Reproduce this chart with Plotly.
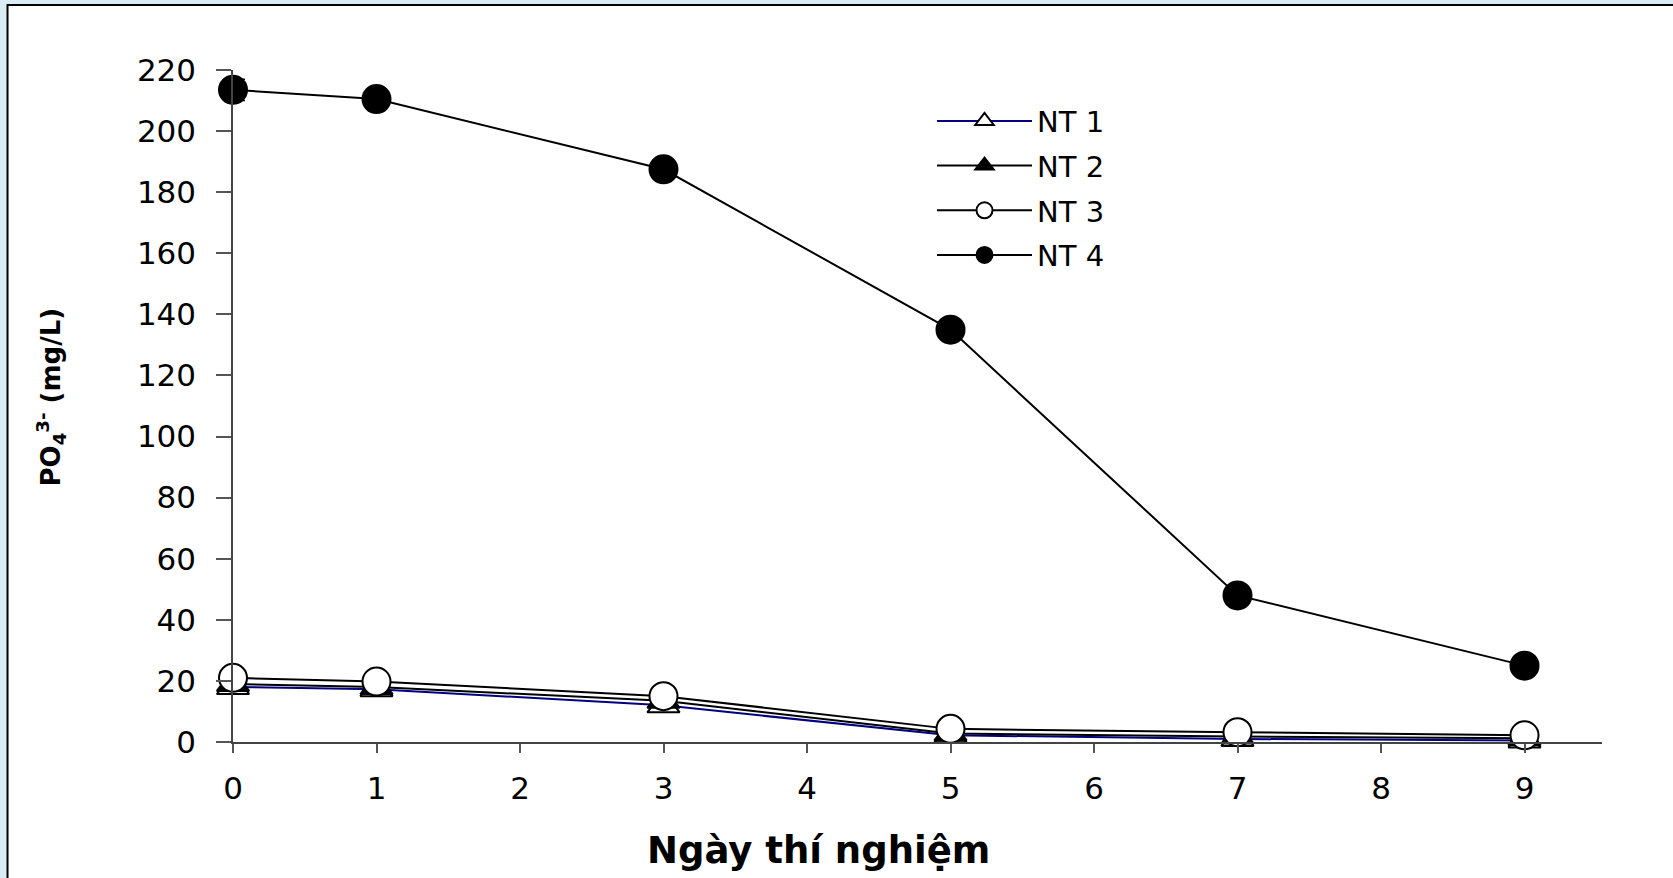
import plotly.graph_objects as go

days = [0, 1, 3, 5, 7, 9]
nt1 = [18.0, 17.3, 12.0, 2.2, 1.0, 0.5]
nt2 = [19.0, 18.0, 13.5, 2.8, 1.8, 1.2]
nt3 = [21.0, 19.8, 15.0, 4.3, 3.2, 2.2]
nt4 = [213.5, 210.5, 187.5, 135.0, 48.0, 25.0]
nt4_err = [3.5, 1.0, 1.5, 1.5, 1.5, 1.0]
names = ["NT 1", "NT 2", "NT 3", "NT 4"]
x_ticks = [0, 1, 2, 3, 4, 5, 6, 7, 8, 9]
y_ticks = [0, 20, 40, 60, 80, 100, 120, 140, 160, 180, 200, 220]

FONT = "DejaVu Sans"
MS = 28

fig = go.Figure()

fig.add_trace(go.Scatter(
    x=days, y=nt1, name=names[0], mode="lines+markers", legendgroup="g1",
    line=dict(color="#000080", width=2),
    marker=dict(symbol="triangle-up", size=MS, color="white",
                line=dict(color="black", width=2)),
    cliponaxis=False))
fig.add_trace(go.Scatter(
    x=days, y=nt2, name=names[1], mode="lines+markers", legendgroup="g2",
    line=dict(color="black", width=2),
    marker=dict(symbol="triangle-up", size=MS, color="black",
                line=dict(color="black", width=2)),
    cliponaxis=False))
fig.add_trace(go.Scatter(
    x=days, y=nt3, name=names[2], mode="lines+markers", legendgroup="g3",
    line=dict(color="black", width=2),
    marker=dict(symbol="circle", size=MS, color="white",
                line=dict(color="black", width=2)),
    cliponaxis=False))
fig.add_trace(go.Scatter(
    x=days, y=nt4, name=names[3], mode="lines+markers", legendgroup="g4",
    line=dict(color="black", width=2),
    marker=dict(symbol="circle", size=MS, color="black",
                line=dict(color="black", width=2)),
    error_y=dict(type="data", array=nt4_err, visible=True,
                 color="black", thickness=1.5, width=12),
    cliponaxis=False))

fig.update_layout(
    width=1673, height=878,
    margin=dict(l=233, r=71, t=70, b=136),
    paper_bgcolor="#d9ecf4",
    plot_bgcolor="white",
    font=dict(family=FONT, size=30, color="black"),
    showlegend=True,
    legend=dict(x=0.5106, y=0.962, xanchor="left", yanchor="top",
                bgcolor="rgba(0,0,0,0)", font=dict(family=FONT, size=29),
                itemwidth=95, traceorder="grouped", tracegroupgap=4),
    shapes=[dict(type="rect", xref="paper", yref="paper",
                 x0=-0.1647, x1=1.2, y0=-0.3, y1=1.0967,
                 fillcolor="white", line=dict(color="black", width=2),
                 layer="below")],
    annotations=[
        dict(text="<b>Ngày thí nghiệm</b>", xref="paper", yref="paper",
             x=0.428, y=-0.161, xanchor="center", yanchor="middle",
             showarrow=False, font=dict(family=FONT, size=37)),
        dict(text="<b>PO<sub>4</sub><sup>3-</sup> (mg/L)</b>", xref="paper", yref="paper",
             x=-0.133, y=0.514, xanchor="center", yanchor="middle",
             textangle=-90, showarrow=False, font=dict(family=FONT, size=26)),
    ],
)

fig.update_xaxes(
    range=[0, 9.54], tickvals=x_ticks, ticks="outside", ticklen=9,
    tickcolor="#555", tickwidth=1.5, showline=True, linecolor="#444",
    linewidth=1.5, showgrid=False, zeroline=False,
    tickfont=dict(family=FONT, size=31), ticklabelstandoff=9)
fig.update_yaxes(
    range=[0, 220], tickvals=y_ticks, ticks="outside", ticklen=15,
    tickcolor="#555", tickwidth=1.5, showline=True, linecolor="#444",
    linewidth=1.5, showgrid=False, zeroline=False,
    tickfont=dict(family=FONT, size=31), ticklabelstandoff=14)

fig.write_html("out.html")
